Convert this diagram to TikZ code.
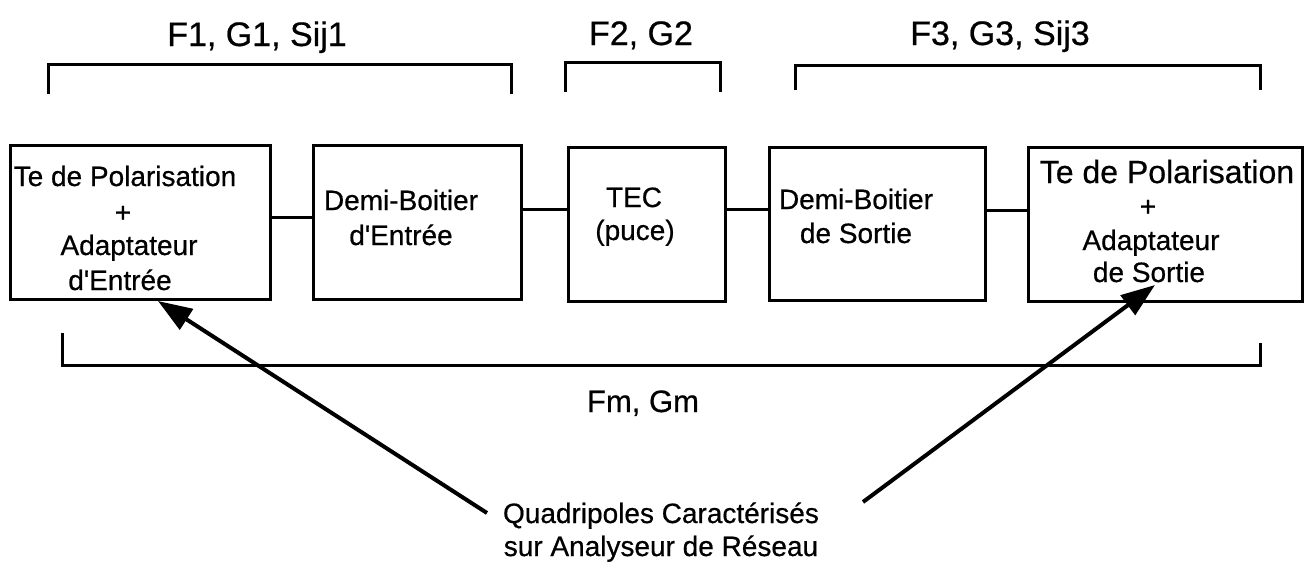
\documentclass[tikz,border=0pt]{standalone}
\usepackage{fontspec}
\setmainfont{Liberation Sans}[FakeBold=0.6]
\usetikzlibrary{arrows.meta}
\tikzset{
  box/.style={draw, line width=3pt, inner sep=0pt},
  lbl/.style={anchor=base, inner sep=0pt, font=\fontsize{28}{34}\selectfont},
  toplbl/.style={anchor=base, inner sep=0pt, font=\fontsize{34}{40}\selectfont},
  link/.style={line width=3pt},
  brk/.style={line width=3pt},
  arr/.style={line width=4pt, -{Triangle[length=34pt,width=24pt]}}
}
\newcommand{\apo}{\textquotesingle}
\begin{document}
\begin{tikzpicture}[x=1pt,y=-1pt]
\useasboundingbox[fill=white] (0,0) rectangle (1310,566);
% boxes
\node[box, minimum width=260pt, minimum height=154pt] (b1) at (140,222) {};
\node[box, minimum width=208pt, minimum height=154pt] (b2) at (417,222) {};
\node[box, minimum width=157pt, minimum height=154pt] (b3) at (646.5,224) {};
\node[box, minimum width=216pt, minimum height=153pt] (b4) at (877,223.5) {};
\node[box, minimum width=274pt, minimum height=154pt] (b5) at (1165,224) {};
% box texts
\node[lbl] (t1a) at (125,186) {Te de Polarisation};
\node[lbl] (t1b) at (123,222) {+};
\node[lbl] (t1c) at (129,255) {Adaptateur};
\node[lbl] (t1d) at (120,290) {d\apo Entrée};
\node[lbl] (t2a) at (401,210) {Demi-Boitier};
\node[lbl] (t2b) at (401,245) {d\apo Entrée};
\node[lbl] (t3a) at (634,207) {TEC};
\node[lbl] (t3b) at (635,240) {(puce)};
\node[lbl] (t4a) at (856,209) {Demi-Boitier};
\node[lbl] (t4b) at (856,243) {de Sortie};
\node[lbl, font=\fontsize{32}{38}\selectfont] (t5a) at (1167,183) {Te de Polarisation};
\node[lbl] (t5b) at (1148,216) {+};
\node[lbl] (t5c) at (1151,250) {Adaptateur};
\node[lbl] (t5d) at (1149,282) {de Sortie};
% connectors
\coordinate (y12) at (0,217);
\coordinate (y23) at (0,209);
\coordinate (y34) at (0,209);
\coordinate (y45) at (0,210);
\draw[link] (b1.east |- y12) -- (b2.west |- y12);
\draw[link] (b2.east |- y23) -- (b3.west |- y23);
\draw[link] (b3.east |- y34) -- (b4.west |- y34);
\draw[link] (b4.east |- y45) -- (b5.west |- y45);
% top brackets and labels
\draw[brk] (48,94) -- (48,64) -- (511,64) -- (511,94);
\draw[brk] (565,92) -- (565,62) -- (720,62) -- (720,92);
\draw[brk] (795,90) -- (795,65) -- (1260,65) -- (1260,90);
\node[toplbl] (l1) at (257,46) {F1, G1, Sij1};
\node[toplbl] (l2) at (641,45) {F2, G2};
\node[toplbl] (l3) at (1000,45) {F3, G3, Sij3};
% bottom bracket
\draw[brk] (62,333) -- (62,365) -- (1260,365) -- (1260,343);
\node[lbl, font=\fontsize{31}{36}\selectfont] (lm) at (643,412) {Fm, Gm};
% bottom text
\node[lbl] (q1) at (661,523) {Quadripoles Caractérisés};
\node[lbl] (q2) at (661,556) {sur Analyseur de Réseau};
% arrows
\coordinate (a1s) at (487,513);
\coordinate (a1e) at (158,301);
\coordinate (a2s) at (863,502);
\coordinate (a2e) at (1155,285);
\draw[arr] (a1s) -- (a1e);
\draw[arr] (a2s) -- (a2e);
\end{tikzpicture}
\end{document}
